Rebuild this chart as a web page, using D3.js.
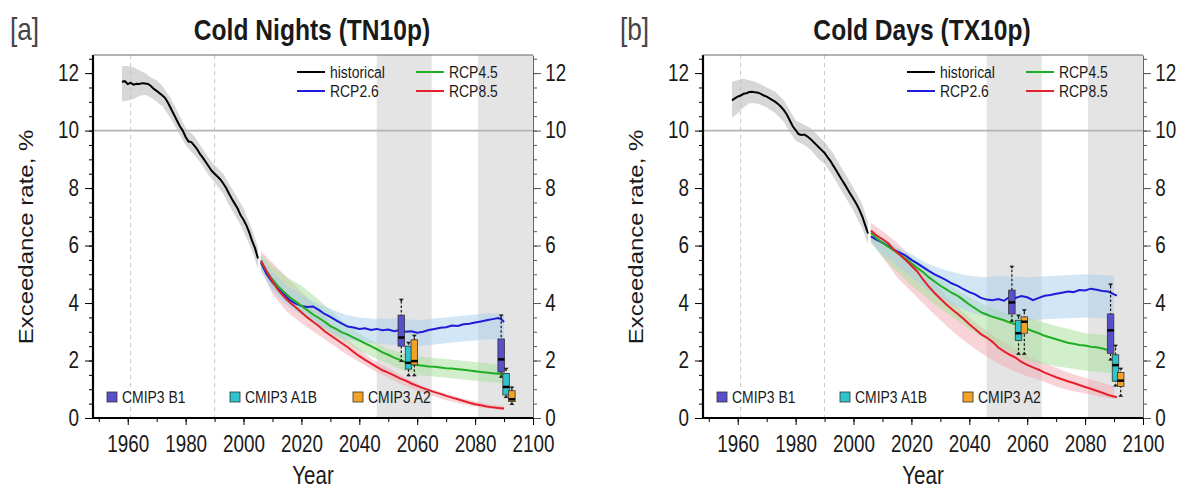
<!DOCTYPE html>
<html><head><meta charset="utf-8">
<script src="https://cdn.jsdelivr.net/npm/d3@7"></script>
<style>
body{margin:0;background:#fff}
svg{display:block;font-family:"Liberation Sans",Arial,Helvetica,sans-serif}
</style></head><body>
<svg width="1188" height="488"></svg>
<script>
// ---- data ----
var xTicks = [1960, 1980, 2000, 2020, 2040, 2060, 2080, 2100];
var yTicks = [0, 2, 4, 6, 8, 10, 12];
var basePeriod = [1961, 1990];
var futurePeriods = [[2046, 2065], [2081, 2100]];

// panel a: cold nights
var histA = [[1958,11.70],[1959,11.72],[1960,11.62],[1961,11.66],[1962,11.60],[1963,11.63],[1964,11.62],[1965,11.65],[1966,11.64],[1967,11.62],[1968,11.55],[1969,11.45],[1970,11.38],[1971,11.30],[1972,11.22],[1973,11.12],[1974,10.95],[1975,10.75],[1976,10.55],[1977,10.35],[1978,10.15],[1979,10.00],[1980,9.78],[1981,9.62],[1982,9.60],[1983,9.48],[1984,9.35],[1985,9.18],[1986,9.05],[1987,8.90],[1988,8.75],[1989,8.60],[1990,8.50],[1991,8.40],[1992,8.30],[1993,8.16],[1994,8.00],[1995,7.80],[1996,7.62],[1997,7.45],[1998,7.28],[1999,7.05],[2000,6.90],[2001,6.70],[2002,6.45],[2003,6.15],[2004,5.90],[2005,5.55]];
var histBandA = [[1958,11.0,12.25],[1960,11.05,12.25],[1962,11.1,12.2],[1964,11.2,12.1],[1966,11.25,12.0],[1968,11.15,11.85],[1970,11.0,11.75],[1972,10.85,11.55],[1975,10.4,11.1],[1978,9.85,10.5],[1980,9.5,10.1],[1983,9.15,9.8],[1985,8.9,9.5],[1988,8.45,9.05],[1990,8.2,8.8],[1993,7.8,8.5],[1995,7.4,8.15],[1998,6.9,7.65],[2000,6.5,7.3],[2003,5.8,6.55],[2005,5.2,5.95]];
var rcp26A = [[2006,5.40],[2008,5.00],[2010,4.72],[2012,4.50],[2014,4.30],[2016,4.10],[2018,3.98],[2020,3.90],[2022,3.86],[2024,3.88],[2026,3.76],[2028,3.62],[2030,3.52],[2032,3.40],[2034,3.28],[2036,3.18],[2038,3.15],[2040,3.10],[2042,3.12],[2044,3.06],[2046,3.10],[2048,3.05],[2050,3.08],[2052,3.02],[2054,3.06],[2056,3.00],[2058,3.02],[2060,2.97],[2062,3.00],[2064,3.06],[2066,3.10],[2068,3.14],[2070,3.16],[2072,3.22],[2074,3.20],[2076,3.26],[2078,3.28],[2080,3.32],[2082,3.36],[2084,3.40],[2086,3.44],[2088,3.48],[2089,3.44],[2090,3.34]];
var rcp45A = [[2006,5.45],[2008,5.10],[2010,4.82],[2012,4.58],[2014,4.38],[2016,4.20],[2018,4.05],[2020,3.90],[2022,3.76],[2024,3.60],[2026,3.48],[2028,3.35],[2030,3.20],[2032,3.10],[2034,2.98],[2036,2.90],[2038,2.80],[2040,2.70],[2042,2.60],[2044,2.50],[2046,2.40],[2048,2.28],[2050,2.20],[2052,2.10],[2054,2.02],[2056,1.94],[2058,1.88],[2060,1.84],[2062,1.82],[2064,1.79],[2066,1.78],[2068,1.76],[2070,1.73],[2072,1.72],[2074,1.70],[2076,1.68],[2078,1.65],[2080,1.63],[2082,1.60],[2084,1.58],[2086,1.56],[2088,1.54],[2090,1.52]];
var rcp85A = [[2006,5.48],[2008,5.10],[2010,4.75],[2012,4.45],[2014,4.22],[2016,4.02],[2018,3.85],[2020,3.68],[2022,3.50],[2024,3.35],[2026,3.20],[2028,3.02],[2030,2.88],[2032,2.74],[2034,2.60],[2036,2.46],[2038,2.30],[2040,2.15],[2042,2.02],[2044,1.90],[2046,1.78],[2048,1.66],[2050,1.58],[2052,1.48],[2054,1.38],[2056,1.30],[2058,1.20],[2060,1.12],[2062,1.04],[2064,0.97],[2066,0.90],[2068,0.84],[2070,0.77],[2072,0.71],[2074,0.65],[2076,0.59],[2078,0.53],[2080,0.48],[2082,0.44],[2084,0.40],[2086,0.37],[2088,0.35],[2090,0.33]];
var band26A = [[2006,5.1,5.6],[2010,4.4,5.1],[2015,3.9,4.6],[2020,3.6,4.3],[2025,3.3,4.0],[2030,3.0,3.8],[2035,2.75,3.6],[2040,2.65,3.5],[2045,2.6,3.45],[2050,2.55,3.45],[2055,2.55,3.45],[2060,2.5,3.4],[2065,2.55,3.45],[2070,2.6,3.5],[2075,2.65,3.55],[2080,2.7,3.6],[2085,2.75,3.65],[2090,2.7,3.6]];
var band45A = [[2006,5.2,5.7],[2010,4.5,5.3],[2015,4.0,4.9],[2020,3.6,4.6],[2025,3.25,4.2],[2030,2.95,3.75],[2035,2.65,3.3],[2040,2.35,2.95],[2045,2.1,2.65],[2050,1.9,2.4],[2055,1.65,2.25],[2060,1.5,2.15],[2065,1.45,2.1],[2070,1.4,2.05],[2075,1.35,2.0],[2080,1.3,1.95],[2085,1.25,1.9],[2090,1.2,1.85]];
var band85A = [[2006,5.2,5.8],[2010,4.3,5.4],[2015,3.7,4.9],[2020,3.3,4.4],[2025,2.95,3.9],[2030,2.6,3.3],[2035,2.25,2.8],[2040,1.95,2.4],[2045,1.65,2.0],[2050,1.4,1.75],[2055,1.15,1.45],[2060,0.95,1.2],[2065,0.78,1.0],[2070,0.62,0.85],[2075,0.5,0.7],[2080,0.4,0.58],[2085,0.32,0.48],[2090,0.27,0.42]];
// [scenario, year, low whisker, q1, median, q3, high whisker]
var boxesA = [["B1",2054.5,1.95,2.50,2.80,3.58,4.15],["A1B",2057,1.45,1.70,1.92,2.50,2.65],["A2",2059,1.45,1.85,1.98,2.72,2.90],
              ["B1",2089,1.40,1.60,2.04,2.75,3.60],["A1B",2090.7,0.70,0.80,1.08,1.55,1.75],["A2",2092.7,0.45,0.57,0.65,0.95,1.10]];

// panel b: cold days
var histB = [[1958,11.05],[1959,11.12],[1960,11.18],[1961,11.22],[1962,11.28],[1963,11.30],[1964,11.34],[1965,11.35],[1966,11.33],[1967,11.32],[1968,11.28],[1969,11.22],[1970,11.18],[1971,11.12],[1972,11.06],[1973,11.00],[1974,10.92],[1975,10.82],[1976,10.70],[1977,10.55],[1978,10.35],[1979,10.15],[1980,10.02],[1981,9.88],[1982,9.85],[1983,9.86],[1984,9.80],[1985,9.72],[1986,9.62],[1987,9.52],[1988,9.42],[1989,9.32],[1990,9.22],[1991,9.08],[1992,8.95],[1993,8.78],[1994,8.62],[1995,8.45],[1996,8.28],[1997,8.12],[1998,7.95],[1999,7.78],[2000,7.62],[2001,7.45],[2002,7.25],[2003,7.02],[2004,6.72],[2005,6.42]];
var histBandB = [[1958,10.45,11.7],[1960,10.6,11.75],[1962,10.8,11.8],[1964,10.95,11.75],[1966,10.95,11.7],[1968,10.9,11.6],[1970,10.8,11.5],[1973,10.6,11.35],[1976,10.3,11.05],[1978,9.95,10.7],[1980,9.65,10.35],[1983,9.5,10.2],[1985,9.35,10.1],[1988,9.0,9.8],[1990,8.85,9.6],[1993,8.4,9.2],[1995,8.05,8.85],[1998,7.55,8.35],[2000,7.2,8.0],[2003,6.6,7.45],[2005,6.05,6.8]];
var rcp26B = [[2006,6.32],[2008,6.20],[2010,6.10],[2012,5.98],[2014,5.85],[2016,5.75],[2018,5.65],[2020,5.50],[2022,5.38],[2024,5.25],[2026,5.12],[2028,5.00],[2030,4.90],[2032,4.80],[2034,4.68],[2036,4.60],[2038,4.48],[2040,4.38],[2042,4.30],[2044,4.18],[2046,4.12],[2048,4.10],[2050,4.14],[2052,4.08],[2054,4.22],[2056,4.18],[2058,4.24],[2060,4.20],[2062,4.10],[2064,4.18],[2066,4.25],[2068,4.28],[2070,4.32],[2072,4.36],[2074,4.40],[2076,4.38],[2078,4.45],[2080,4.44],[2082,4.50],[2084,4.46],[2086,4.42],[2088,4.40],[2090,4.30],[2091,4.26]];
var rcp45B = [[2006,6.45],[2008,6.25],[2010,6.10],[2012,5.96],[2014,5.82],[2016,5.68],[2018,5.55],[2020,5.38],[2022,5.22],[2024,5.08],[2026,4.90],[2028,4.75],[2030,4.60],[2032,4.48],[2034,4.35],[2036,4.25],[2038,4.10],[2040,3.95],[2042,3.82],[2044,3.68],[2046,3.60],[2048,3.52],[2050,3.46],[2052,3.40],[2054,3.32],[2056,3.26],[2058,3.18],[2060,3.10],[2062,3.02],[2064,2.95],[2066,2.86],[2068,2.80],[2070,2.74],[2072,2.68],[2074,2.62],[2076,2.58],[2078,2.54],[2080,2.52],[2082,2.48],[2084,2.46],[2086,2.42],[2088,2.36],[2090,2.30]];
var rcp85B = [[2006,6.52],[2008,6.35],[2010,6.22],[2012,6.08],[2014,5.85],[2016,5.68],[2018,5.50],[2020,5.30],[2022,5.10],[2024,4.82],[2026,4.57],[2028,4.35],[2030,4.15],[2032,3.96],[2034,3.78],[2036,3.62],[2038,3.45],[2040,3.26],[2042,3.10],[2044,2.92],[2046,2.80],[2048,2.65],[2050,2.45],[2052,2.32],[2054,2.20],[2056,2.10],[2058,1.95],[2060,1.85],[2062,1.76],[2064,1.68],[2066,1.58],[2068,1.50],[2070,1.42],[2072,1.35],[2074,1.28],[2076,1.22],[2078,1.15],[2080,1.08],[2082,1.02],[2084,0.95],[2086,0.88],[2088,0.80],[2090,0.75],[2091,0.72]];
var band26B = [[2006,6.1,6.5],[2010,5.7,6.3],[2015,5.3,5.95],[2020,4.9,5.7],[2025,4.5,5.4],[2030,4.15,5.2],[2035,3.9,5.05],[2040,3.7,4.95],[2045,3.55,4.9],[2050,3.45,4.95],[2060,3.4,4.9],[2070,3.45,4.95],[2080,3.5,5.0],[2090,3.45,4.95]];
var band45B = [[2006,6.1,6.5],[2010,5.6,6.25],[2015,5.1,5.9],[2020,4.6,5.6],[2025,4.2,5.25],[2030,3.8,4.85],[2035,3.45,4.5],[2040,3.1,4.2],[2045,2.8,3.95],[2050,2.5,3.75],[2055,2.25,3.6],[2060,2.0,3.5],[2070,1.8,3.2],[2080,1.65,2.95],[2090,1.55,2.85]];
var band85B = [[2006,6.2,6.8],[2010,5.6,6.5],[2015,4.9,6.1],[2020,4.4,5.6],[2025,3.9,5.0],[2030,3.4,4.45],[2035,2.95,3.95],[2040,2.55,3.5],[2045,2.2,3.1],[2050,1.9,2.75],[2055,1.65,2.45],[2060,1.45,2.15],[2065,1.3,1.95],[2070,1.1,1.75],[2075,0.95,1.55],[2080,0.85,1.4],[2085,0.75,1.25],[2090,0.65,1.1]];
var boxesB = [["B1",2054.7,3.35,3.62,4.02,4.45,5.30],["A1B",2057,2.20,2.70,2.95,3.40,3.60],["A2",2059,2.20,2.95,3.35,3.52,3.78],
              ["B1",2088.8,2.00,2.25,3.05,3.62,4.68],["A1B",2090.5,1.10,1.28,1.84,2.20,2.55],["A2",2092.3,0.74,1.10,1.30,1.58,1.75]];

var lineNames = ["historical", "RCP2.6", "RCP4.5", "RCP8.5"];
var lineColors = {"historical": "#000000", "RCP2.6": "#1c1cd9", "RCP4.5": "#1fae22", "RCP8.5": "#e3202b"};
var bandColors = {"historical": "#bcbcbc", "RCP2.6": "#a8cdeb", "RCP4.5": "#a6e09a", "RCP8.5": "#f2a9b3"};
var boxNames = ["B1", "A1B", "A2"];
var boxColors = {"B1": "#5a4fcb", "A1B": "#2fc3cc", "A2": "#f2a326"};

var panels = [
  {tag: "[a]", title: "Cold Nights (TN10p)", dx: 0, hist: histA, histBand: histBandA,
   lines: [rcp26A, rcp45A, rcp85A], bands: [band26A, band45A, band85A], boxes: boxesA},
  {tag: "[b]", title: "Cold Days (TX10p)", dx: 610, hist: histB, histBand: histBandB,
   lines: [rcp26B, rcp45B, rcp85B], bands: [band26B, band45B, band85B], boxes: boxesB}
];

// ---- drawing ----
var svg = d3.select("svg");
var SX = 0.82; // the source picture is squeezed sideways
var L = 93, R = 533, T = 55, B = 418;

var x = d3.scaleLinear().domain([1948, 2100]).range([L, R]);
var y = d3.scaleLinear().domain([0, 12.63]).range([B, T]);

var area = d3.area().x(d => x(d[0])).y0(d => y(d[1])).y1(d => y(d[2]));
var line = d3.line().x(d => x(d[0])).y(d => y(d[1]));

function txt(g, s, tx, ty, size, anchor, weight) {
  return g.append("text").text(s)
    .attr("transform", "translate(" + tx + "," + ty + ") scale(" + SX + ",1)")
    .attr("font-size", size).attr("text-anchor", anchor || "start")
    .attr("font-weight", weight || "normal").attr("fill", "#1a1a1a");
}

function squeezeTicks(ax, size) {
  ax.attr("font-size", null).attr("font-family", null);
  ax.selectAll("text").attr("font-size", size).attr("fill", "#1a1a1a")
    .attr("transform", "scale(" + SX + ",1)");
}

panels.forEach(function(p) {
  var g = svg.append("g").attr("transform", "translate(" + p.dx + ",0)");

  // future periods
  g.selectAll("rect.per").data(futurePeriods).enter().append("rect")
    .attr("x", d => x(d[0])).attr("width", d => x(d[1]) - x(d[0]))
    .attr("y", T).attr("height", B - T).attr("fill", "#e4e4e4");

  // base period marks
  g.selectAll("line.base").data(basePeriod).enter().append("line")
    .attr("x1", d => x(d)).attr("x2", d => x(d)).attr("y1", T).attr("y2", B)
    .attr("stroke", "#c4c4c4").attr("stroke-dasharray", "4,4").attr("stroke-width", 1);

  g.append("line").attr("x1", L).attr("x2", R).attr("y1", y(10)).attr("y2", y(10))
    .attr("stroke", "#b4b4b4").attr("stroke-width", 1.6);

  // spread bands
  g.append("path").datum(p.histBand).attr("d", area)
    .attr("fill", bandColors["historical"]).attr("fill-opacity", 0.6);
  [2, 1, 0].forEach(function(i) {
    g.append("path").datum(p.bands[i]).attr("d", area)
      .attr("fill", bandColors[lineNames[i + 1]]).attr("fill-opacity", 0.5);
  });

  // model means
  g.append("path").datum(p.hist).attr("d", line).attr("fill", "none")
    .attr("stroke", lineColors["historical"]).attr("stroke-width", 2);
  p.lines.forEach(function(s, i) {
    g.append("path").datum(s).attr("d", line).attr("fill", "none")
      .attr("stroke", lineColors[lineNames[i + 1]]).attr("stroke-width", 2);
  });

  // CMIP3 boxes
  var bw = 6.5;
  var bx = g.selectAll("g.box").data(p.boxes).enter().append("g");
  bx.append("line").attr("x1", d => x(d[1])).attr("x2", d => x(d[1]))
    .attr("y1", d => y(d[2])).attr("y2", d => y(d[6]))
    .attr("stroke", "#111").attr("stroke-width", 1.2).attr("stroke-dasharray", "2.5,2");
  bx.append("path").attr("d", d => "M" + (x(d[1]) - 2.5) + "," + y(d[6]) + "h5l-2.5,3z")
    .attr("fill", "#222");
  bx.append("path").attr("d", d => "M" + (x(d[1]) - 2.5) + "," + y(d[2]) + "h5l-2.5,-3z")
    .attr("fill", "#222");
  bx.append("rect").attr("x", d => x(d[1]) - bw / 2).attr("width", bw)
    .attr("y", d => y(d[5])).attr("height", d => y(d[3]) - y(d[5]))
    .attr("fill", d => boxColors[d[0]]).attr("stroke", "#333").attr("stroke-width", 0.8);
  bx.append("line").attr("x1", d => x(d[1]) - bw / 2).attr("x2", d => x(d[1]) + bw / 2)
    .attr("y1", d => y(d[4])).attr("y2", d => y(d[4]))
    .attr("stroke", "#000").attr("stroke-width", 2.5);

  // axes
  var minorY = d3.range(0, 12.6, 0.5), minorX = d3.range(1950, 2101, 10);
  var ax;
  ax = g.append("g").attr("transform", "translate(" + L + ",0)")
    .call(d3.axisLeft(y).tickValues(minorY).tickSize(4).tickFormat("").tickSizeOuter(0));
  ax.select(".domain").remove();
  ax = g.append("g").attr("transform", "translate(" + L + ",0)")
    .call(d3.axisLeft(y).tickValues(yTicks).tickSize(8).tickPadding(9).tickSizeOuter(0));
  ax.select(".domain").attr("stroke-width", 2.2).attr("d", "M0," + B + "V" + T);
  squeezeTicks(ax, 23);

  ax = g.append("g").attr("transform", "translate(" + R + ",0)")
    .call(d3.axisRight(y).tickValues(minorY).tickSize(4).tickFormat("").tickSizeOuter(0));
  ax.select(".domain").remove();
  ax.selectAll("line").attr("stroke", "#555");
  ax = g.append("g").attr("transform", "translate(" + R + ",0)")
    .call(d3.axisRight(y).tickValues(yTicks).tickSize(8).tickPadding(7).tickSizeOuter(0));
  ax.select(".domain").attr("stroke", "#666").attr("stroke-width", 1);
  ax.selectAll("line").attr("stroke", "#555");
  squeezeTicks(ax, 23);

  g.append("line").attr("x1", L).attr("x2", R).attr("y1", T).attr("y2", T)
    .attr("stroke", "#666").attr("stroke-width", 1.2);

  ax = g.append("g").attr("transform", "translate(0," + B + ")")
    .call(d3.axisBottom(x).tickValues(minorX).tickSize(4).tickFormat("").tickSizeOuter(0));
  ax.select(".domain").remove();
  ax = g.append("g").attr("transform", "translate(0," + B + ")")
    .call(d3.axisBottom(x).tickValues(xTicks).tickSize(7).tickPadding(11).tickFormat(d3.format("d")).tickSizeOuter(0));
  ax.select(".domain").attr("stroke-width", 2.2).attr("d", "M" + L + ",0H" + R);
  squeezeTicks(ax, 23);

  // top legend
  var lg = g.selectAll("g.leg").data(lineNames).enter().append("g")
    .attr("transform", (d, i) => "translate(" + (297 + Math.floor(i / 2) * 119) + "," + (72 + (i % 2) * 19) + ")");
  lg.append("line").attr("x1", 0).attr("x2", 28).attr("stroke", d => lineColors[d]).attr("stroke-width", 2);
  lg.each(function(d) { txt(d3.select(this), d, 33, 6, 17); });

  // bottom legend
  var bl = g.selectAll("g.bleg").data(boxNames).enter().append("g")
    .attr("transform", (d, i) => "translate(" + (107 + i * 123) + ",397)");
  bl.append("rect").attr("x", 0).attr("y", -5).attr("width", 10).attr("height", 10)
    .attr("fill", d => boxColors[d]).attr("stroke", "#333").attr("stroke-width", 0.8);
  bl.each(function(d) { txt(d3.select(this), "CMIP3 " + d, 15, 6, 17); });

  // titles
  txt(g, p.tag, 10, 40, 32).attr("fill", "#444");
  txt(g, p.title, 312, 40, 30, "middle", "bold");
  txt(g, "Year", 313, 484, 25, "middle");
  g.append("text").text("Exceedance rate, %")
    .attr("transform", "translate(33,237) scale(" + SX + ",1) rotate(-90)")
    .attr("font-size", 24).attr("text-anchor", "middle").attr("fill", "#1a1a1a");
});
</script></body></html>
